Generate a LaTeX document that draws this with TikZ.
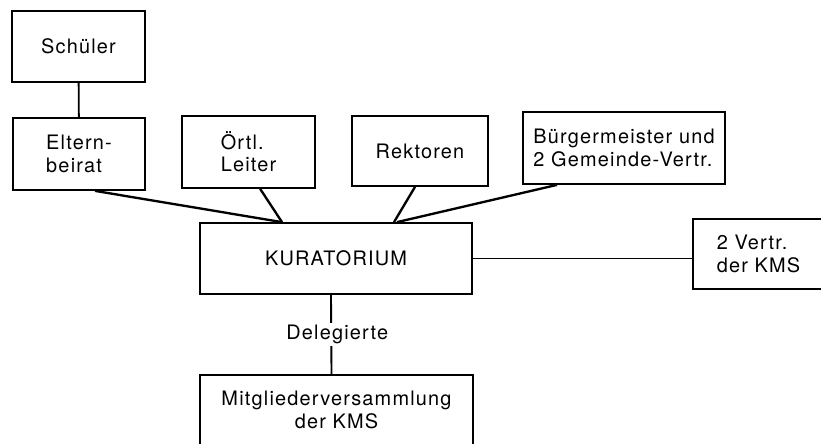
\documentclass[tikz,border=0pt]{standalone}
\usepackage{fontspec}
\setmainfont{TeX Gyre Heros}[LetterSpace=6]
\usetikzlibrary{positioning}

\begin{document}
\begin{tikzpicture}[x=0.03cm,y=-0.03cm,line width=1.6pt,
                    font=\fontsize{17}{19}\selectfont,
                    org node/.style={rectangle,draw,line width=1.5pt,inner sep=0pt,align=left},
                    lab node/.style={fill=white,inner sep=2pt}]

  \path[use as bounding box,clip] (0,0) rectangle (821,443);

  \node[org node,minimum width=3.99cm,minimum height=2.13cm] (schueler) at (78.5,46.5) {Schüler};
  \node[org node,minimum width=3.96cm,minimum height=2.16cm] (eltern) at (79,154) {Eltern-\\beirat};
  \node[org node,minimum width=3.99cm,minimum height=2.16cm] (leiter) at (248.5,152) {Örtl.\\Leiter};
  \node[org node,minimum width=4.08cm,minimum height=2.1cm] (rektoren) at (420,151) {Rektoren};
  \node[org node,minimum width=6.06cm,minimum height=2.16cm] (buerger) at (624,148) {Bürgermeister und\\2 Gemeinde-Vertr.};
  \node[org node,minimum width=8.16cm,minimum height=2.13cm] (kurat) at (336,258.5) {KURATORIUM};
  \node[org node,minimum width=3.93cm,minimum height=2.1cm] (kms) at (758.5,254) {2 Vertr.\\der KMS};
  \node[org node,minimum width=8.19cm,minimum height=2.1cm,align=center] (mitglied) at (336.5,410) {Mitgliederversammlung\\der KMS};

  \draw (schueler) -- (eltern);
  \draw (kurat.east) -- (kurat.east -| kms.west);
  \draw ([xshift=-0.15cm]kurat.south) -- node[lab node,xshift=0.18cm] {Delegierte} ([xshift=-0.15cm]mitglied.north);

  % connectors from above
  \draw[line width=2pt] ([xshift=0.48cm]eltern.south) -- ([xshift=-1.62cm]kurat.north);
  \draw[line width=2pt] ([xshift=0.35cm]leiter.south) -- ([xshift=-1.62cm]kurat.north);
  \draw[line width=2pt] ([xshift=-0.15cm]rektoren.south) -- ([xshift=1.74cm]kurat.north);
  \draw[line width=2pt] ([xshift=-2.01cm]buerger.south) -- ([xshift=1.83cm]kurat.north);
\end{tikzpicture}
\end{document}
